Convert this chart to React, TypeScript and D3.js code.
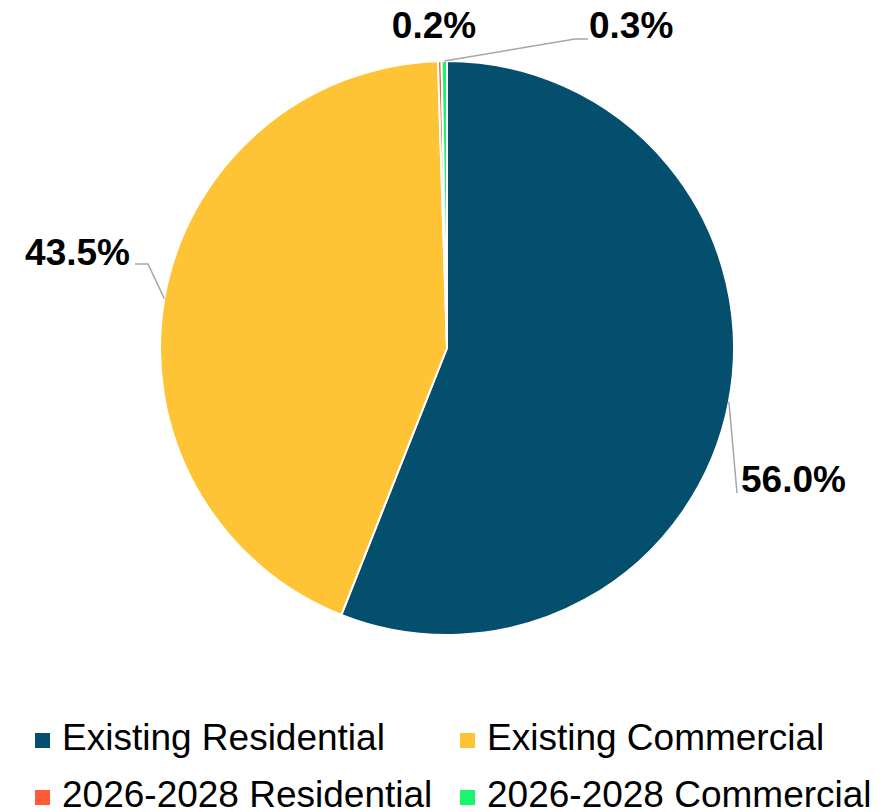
import { useMemo } from 'react';
import * as d3 from 'd3';

const categories = ['Existing Residential', 'Existing Commercial', '2026-2028 Residential', '2026-2028 Commercial'];
const shares = [56.0, 43.5, 0.2, 0.3];
const labels = ['56.0%', '43.5%', '0.2%', '0.3%'];
const colours = ['#044F6E', '#FEC436', '#FF5A36', '#19F56F'];

const width = 884;
const height = 812;
const cx = 447;
const cy = 348;
const radius = 287;

// where each label sits, and the elbow of its leader line (null = no leader)
const labelPos: { x: number; y: number; anchor: string; elbow: [number, number] | null; end: [number, number] | null }[] = [
  { x: 741, y: 492, anchor: 'start', elbow: null, end: [737, 493] },
  { x: 130, y: 265, anchor: 'end', elbow: [148, 264], end: [135, 264] },
  { x: 434, y: 38, anchor: 'middle', elbow: null, end: null },
  { x: 589, y: 38, anchor: 'start', elbow: [575, 39], end: [588, 39] },
];

const App = () => {
  const arcs = useMemo(() => {
    const pie = d3.pie<number>().sort(null).value(d => d).startAngle(0).endAngle(2 * Math.PI);
    return pie(shares);
  }, []);

  const arcGen = d3.arc<d3.PieArcDatum<number>>().innerRadius(0).outerRadius(radius);

  const outerPoint = (a: d3.PieArcDatum<number>): [number, number] => {
    const mid = (a.startAngle + a.endAngle) / 2;
    return [cx + radius * Math.sin(mid), cy - radius * Math.cos(mid)];
  };

  const legendX = d3.scaleBand<number>().domain([0, 1]).range([35, 885]);
  const legendY = d3.scaleBand<number>().domain([0, 1]).range([720, 834]);

  return (
    <svg width={width} height={height} style={{ position: 'absolute', left: 0, top: 0, background: '#fff' }}
      fontFamily="'Liberation Sans', Arial, sans-serif">
      <g transform={`translate(${cx},${cy})`}>
        {arcs.map((a, i) => (
          <path key={categories[i]} d={arcGen(a) ?? ''} fill={colours[i]} stroke="#fff" strokeWidth={2} strokeLinejoin="round" />
        ))}
      </g>

      {arcs.map((a, i) => {
        const lp = labelPos[i];
        if (!lp.end) return null;
        const start = outerPoint(a);
        const pts: [number, number][] = lp.elbow ? [start, lp.elbow, lp.end] : [start, lp.end];
        return (
          <path key={'lead' + i} d={d3.line()(pts) ?? ''} fill="none" stroke="#A6A6A6" strokeWidth={1.5} />
        );
      })}

      {labels.map((t, i) => (
        <text key={'lbl' + i} x={labelPos[i].x} y={labelPos[i].y} textAnchor={labelPos[i].anchor}
          fontSize={37} fontWeight="bold" fill="#000">{t}</text>
      ))}

      {categories.map((c, i) => {
        const col = i % 2;
        const row = Math.floor(i / 2);
        const x = legendX(col) ?? 0;
        const y = legendY(row) ?? 0;
        return (
          <g key={'leg' + i} transform={`translate(${x},${y})`}>
            <rect x={0} y={13} width={15} height={15} fill={colours[i]} />
            <text x={27} y={30} fontSize={37} fill="#000">{c}</text>
          </g>
        );
      })}
    </svg>
  );
};

export default App;
